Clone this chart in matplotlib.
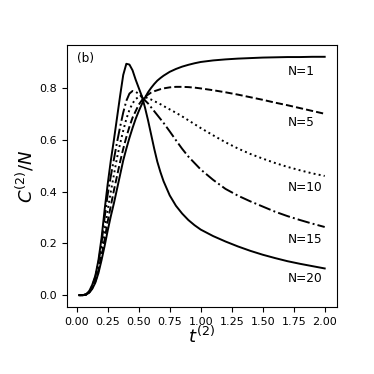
import matplotlib
matplotlib.use("Agg")
import matplotlib.pyplot as plt

t = [0.02, 0.05, 0.075, 0.1, 0.125, 0.15, 0.175, 0.2, 0.225, 0.25, 0.275, 0.3,
     0.325, 0.35, 0.375, 0.4, 0.425, 0.45, 0.475, 0.5, 0.525, 0.55, 0.575, 0.6,
     0.625, 0.65, 0.675, 0.7, 0.75, 0.8, 0.85, 0.9, 0.95, 1.0, 1.1, 1.2, 1.3,
     1.4, 1.5, 1.6, 1.7, 1.8, 1.9, 2.0]

c_n1 = [0, 0, 0.002, 0.009, 0.024, 0.048, 0.085, 0.135, 0.19, 0.25, 0.305, 0.355,
        0.41, 0.465, 0.52, 0.565, 0.607, 0.645, 0.68, 0.71, 0.737, 0.762, 0.783, 0.80,
        0.815, 0.828, 0.838, 0.847, 0.862, 0.873, 0.882, 0.889, 0.895, 0.90, 0.906, 0.91, 0.913,
        0.915, 0.917, 0.918, 0.919, 0.919, 0.92, 0.92]

c_n5 = [0, 0, 0.002, 0.01, 0.027, 0.053, 0.095, 0.15, 0.215, 0.285, 0.345, 0.405,
        0.46, 0.515, 0.565, 0.61, 0.65, 0.685, 0.71, 0.735, 0.752, 0.765, 0.774, 0.782,
        0.787, 0.791, 0.795, 0.798, 0.802, 0.804, 0.804, 0.803, 0.801, 0.798, 0.791, 0.783, 0.774,
        0.764, 0.754, 0.743, 0.733, 0.722, 0.711, 0.70]

c_n10 = [0, 0, 0.002, 0.011, 0.03, 0.06, 0.11, 0.17, 0.25, 0.33, 0.40, 0.465,
         0.53, 0.585, 0.635, 0.68, 0.715, 0.74, 0.757, 0.765, 0.767, 0.765, 0.76, 0.755,
         0.749, 0.743, 0.737, 0.73, 0.717, 0.704, 0.69, 0.675, 0.66, 0.645, 0.617, 0.59, 0.566,
         0.545, 0.527, 0.51, 0.495, 0.482, 0.47, 0.46]

c_n15 = [0, 0, 0.003, 0.013, 0.035, 0.07, 0.125, 0.20, 0.30, 0.39, 0.46, 0.525,
         0.59, 0.65, 0.705, 0.75, 0.778, 0.788, 0.785, 0.777, 0.765, 0.752, 0.74, 0.725,
         0.71, 0.695, 0.68, 0.665, 0.632, 0.598, 0.565, 0.535, 0.51, 0.485, 0.445, 0.41, 0.384,
         0.362, 0.342, 0.322, 0.305, 0.29, 0.276, 0.263]

c_n20 = [0, 0, 0.003, 0.015, 0.04, 0.075, 0.135, 0.22, 0.33, 0.43, 0.52, 0.60,
         0.685, 0.77, 0.85, 0.893, 0.89, 0.868, 0.832, 0.80, 0.768, 0.725, 0.675, 0.62,
         0.565, 0.515, 0.475, 0.44, 0.385, 0.345, 0.315, 0.29, 0.27, 0.253, 0.228, 0.207, 0.188,
         0.171, 0.156, 0.143, 0.131, 0.121, 0.112, 0.103]

labels = ["N=1", "N=5", "N=10", "N=15", "N=20"]
label_y = [0.865, 0.665, 0.415, 0.215, 0.065]
label_x = 1.70

fig = plt.figure(figsize=(3.74, 3.74), dpi=100)
ax = fig.add_axes([0.179, 0.179, 0.722, 0.701])

lw = 1.4
ax.plot(t, c_n1, color="black", linestyle="-", linewidth=lw)
ax.plot(t, c_n5, color="black", linestyle="--", linewidth=lw)
ax.plot(t, c_n10, color="black", linestyle=":", linewidth=lw)
ax.plot(t, c_n15, color="black", linestyle="-.", linewidth=lw)
ax.plot(t, c_n20, color="black", linestyle="-", linewidth=lw)

for lab, yy in zip(labels, label_y):
    ax.text(label_x, yy, lab, fontsize=8.7, ha="left", va="center")

ax.text(0.037, 0.948, "(b)", transform=ax.transAxes, fontsize=8.7, ha="left", va="center")

ax.set_xticks([0.0, 0.25, 0.5, 0.75, 1.0, 1.25, 1.5, 1.75, 2.0])
ax.set_yticks([0.0, 0.2, 0.4, 0.6, 0.8])
ax.tick_params(labelsize=8)
ax.set_xlabel(r"$t^{(2)}$", fontsize=13, labelpad=-1)
ax.set_ylabel(r"$C^{(2)}/N$", fontsize=13, labelpad=2)

fig.savefig("out.png", dpi=100)
